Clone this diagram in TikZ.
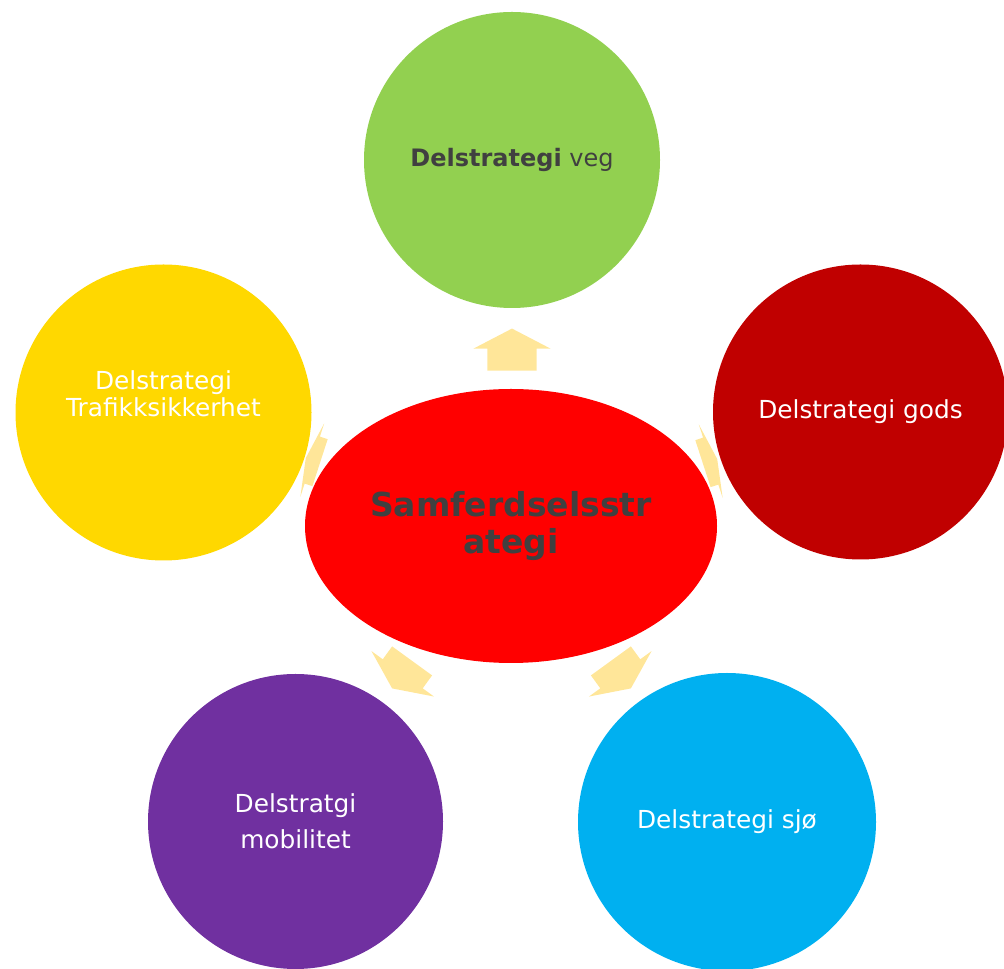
\documentclass[tikz,border=0pt]{standalone}
\usepackage{fontspec}
\setmainfont{DejaVu Sans}
\usepackage{tikz}
\usetikzlibrary{shapes.geometric,shapes.arrows,calc}

\definecolor{vegGreen}{HTML}{92D050}
\definecolor{trafikkYellow}{HTML}{FFD800}
\definecolor{godsRed}{HTML}{C00000}
\definecolor{mobilPurple}{HTML}{7030A0}
\definecolor{sjoBlue}{HTML}{00B0F0}
\definecolor{samfRed}{HTML}{FF0000}
\definecolor{pilGold}{HTML}{FFE699}
\definecolor{textGray}{HTML}{404040}

\begin{document}
\begin{tikzpicture}[x=1pt,y=1pt,
  sirkel/.style={circle, minimum size=296pt, inner sep=0pt, align=center, text=white, font=\fontsize{24.8}{36}\selectfont},
  pil/.style={single arrow, fill=pilGold, draw=none, inner xsep=0pt, inner ysep=24.5pt, single arrow head extend=14pt, single arrow tip angle=125}]
\useasboundingbox (0,0) rectangle (1004,969);

\node[pil, minimum height=42pt, rotate=90] (pil-veg) at (512,613) {};
\node[pil, minimum height=15pt, single arrow tip angle=160, rotate=162] (pil-trafikk) at (315,508) {};
\node[pil, minimum height=15pt, single arrow tip angle=160, rotate=18] (pil-gods) at (708,507) {};
\node[pil, minimum height=34pt, single arrow tip angle=130, rotate=234] (pil-mobil) at (405.5,299) {};
\node[pil, minimum height=34pt, single arrow tip angle=130, rotate=306] (pil-sjo) at (617.5,299) {};

\node[ellipse, fill=samfRed, minimum width=412pt, minimum height=274pt, inner sep=0pt, align=center, text=textGray, font=\bfseries\fontsize{33}{36.7}\selectfont] (samf) at (511,443) {Samferdselsstr\\ategi};

\node[sirkel, fill=vegGreen, text=textGray, font=\fontsize{24}{36}\selectfont] (veg) at (512,809) {\textbf{Delstrategi} veg};
\node[sirkel, fill=trafikkYellow] (trafikk) at (163.5,556.5) {};
\node[align=center, text=white, font=\fontsize{24.8}{26.7}\selectfont] (trafikk-tekst) at ([yshift=19pt]trafikk.center) {Delstrategi\\Trafikksikkerhet};
\node[sirkel, fill=godsRed, minimum size=295pt] (gods) at (860.5,557) {Delstrategi gods};
\node[sirkel, fill=mobilPurple, minimum size=295pt] (mobil) at (295.5,147.5) {Delstratgi\\mobilitet};
\node[sirkel, fill=sjoBlue, minimum size=298pt] (sjo) at (727,147) {Delstrategi sjø};
\end{tikzpicture}
\end{document}
